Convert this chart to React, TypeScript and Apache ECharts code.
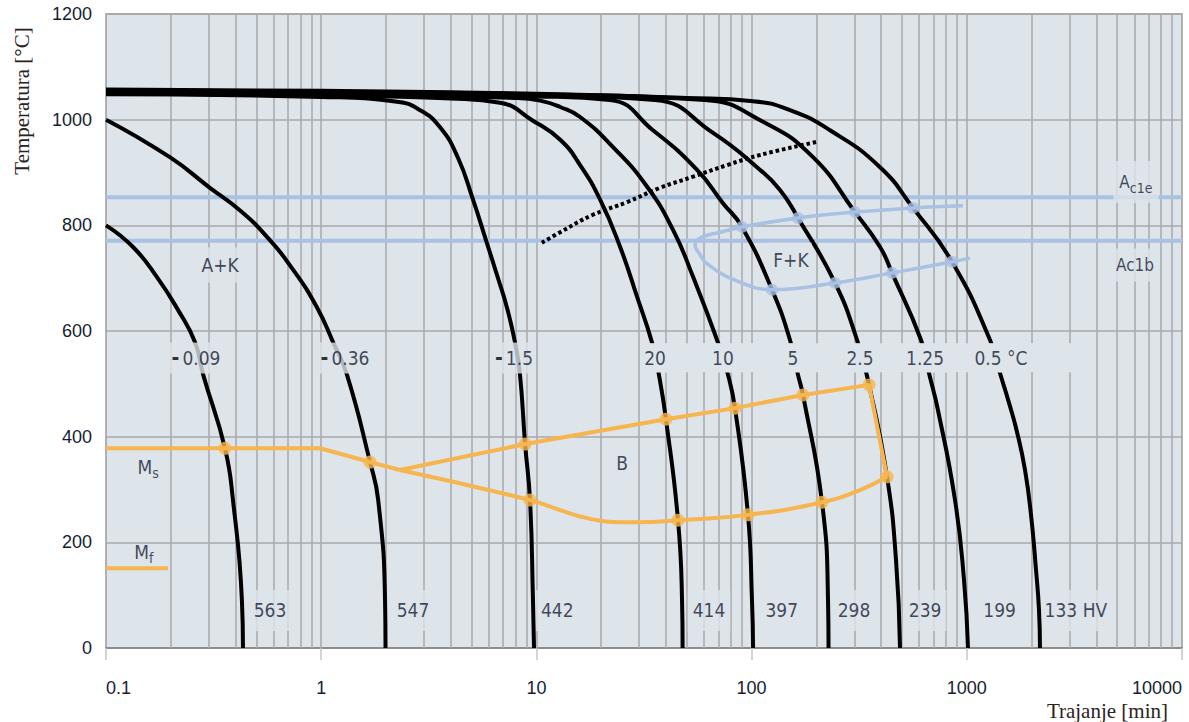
import React, { useEffect, useRef } from "react";
import * as echarts from "echarts";

type P = [number, number];

// ---------- axes ----------
const xMin = 0.1;
const xMax = 10000;
const yMin = 0;
const yMax = 1200;
const yStep = 200;
const decades = [0.1, 1, 10, 100, 1000];
const decadeSteps = [1, 2, 3, 4, 5, 6, 7, 8, 9];

// ---------- cooling curves [time (min), temperature (°C)] ----------
const curve009: P[] = [[0.1, 800], [0.1335, 759], [0.1725, 702], [0.216, 640], [0.259, 579], [0.283, 517], [0.357, 378], [0.389, 280], [0.428, 91], [0.433, 0]];
const curve036: P[] = [[0.1, 1000], [0.198, 929], [0.304, 871], [0.42, 828], [0.56, 778], [0.74, 716], [0.955, 645], [1.135, 579], [1.318, 517], [1.686, 352], [1.84, 280], [1.98, 91], [1.99, 0]];
const curve15: P[] = [[0.1, 1048], [1, 1043], [2.25, 1034], [2.88, 1018], [3.56, 986], [4.32, 928], [5.08, 848], [5.83, 772], [6.56, 706], [7.3, 644], [7.95, 579], [8.39, 517], [8.86, 386], [9.34, 280], [9.64, 91], [9.75, 0]];
const curve20: P[] = [[0.1, 1049.5], [1, 1046], [4, 1040], [6.78, 1032], [9.64, 998], [12.9, 962], [15.96, 914], [19.8, 848], [24.5, 759], [29.4, 664], [34.4, 579], [37.1, 517], [40.0, 433], [45.5, 242], [47.5, 91], [47.8, 0]];
const curve10: P[] = [[0.1, 1051], [1, 1048], [8, 1041], [10.4, 1036], [12.9, 1024], [15.96, 1005], [22.7, 948], [32.7, 873], [43.2, 791], [53.5, 702], [69.1, 583], [77.7, 517], [83.7, 454], [96.2, 252], [100.4, 91], [101.6, 0]];
const curve5: P[] = [[0.1, 1052.5], [1, 1050], [10, 1044], [22, 1037], [34.8, 980], [55.8, 905], [73.6, 842], [90.2, 797], [124.4, 678], [150.8, 583], [164.3, 517], [173.3, 479], [212.4, 276], [226.5, 91], [227.8, 0]];
const curve25: P[] = [[0.1, 1054], [1, 1051.5], [10, 1046], [35.6, 1037], [66.2, 975], [105.9, 910], [135.5, 867], [164.3, 814], [244.1, 691], [308.9, 583], [351.3, 498], [425.8, 324], [468.8, 167], [489.4, 0]];
const curve125: P[] = [[0.1, 1055.5], [1, 1053], [10, 1048], [60.7, 1037], [113, 996], [192.9, 929], [302.3, 825], [395.2, 759], [449.2, 710], [612.6, 583], [667.4, 520], [734.7, 450], [881.6, 280], [970.5, 129], [1013, 0]];
const curve05: P[] = [[0.1, 1057], [1, 1054.5], [10, 1049], [50, 1041], [101.5, 1035], [150.8, 1018], [231.4, 980], [395.2, 910], [562.3, 833], [853.6, 731], [1282, 583], [1427, 520], [1571, 464], [1711, 409], [1864, 337], [1988, 252], [2097, 148], [2165, 72], [2188, 0]];

// ---------- transformation lines ----------
const ac1eTemp = 853;
const ac1bTemp = 771;
const dottedLine: P[] = [[10.6, 767], [12.9, 787], [18.3, 820], [26.4, 844], [37.5, 871], [53.4, 892], [76.9, 914], [109, 933], [201, 958]];
const ferriteLoop: P[] = [[960, 837], [562.3, 833], [302.3, 825], [164.3, 814], [90.2, 797], [71.3, 787], [57.5, 776], [54.6, 763], [57.5, 745], [61.8, 728], [79.4, 700], [124.4, 678], [244.1, 691], [449.2, 710], [853.6, 731], [1035, 738]];
const ferritePoints: P[] = [[90.2, 797], [164.3, 814], [302.3, 825], [562.3, 833], [124.4, 678], [244.1, 691], [449.2, 710], [853.6, 731]];
const msLine: P[] = [[0.1, 378], [0.987, 378], [1.686, 352], [2.32, 337]];
const bainiteUpper: P[] = [[2.32, 337], [8.86, 386], [40.0, 433], [83.7, 454], [173.3, 479], [351.3, 498], [425.8, 324]];
const bainiteLower: P[] = [[425.8, 324], [319, 299], [212.4, 276], [96.2, 252], [45.5, 242], [30.3, 238], [24.4, 238], [19.8, 241], [16.3, 248], [12.9, 261], [9.34, 280], [2.32, 337]];
const bainitePoints: P[] = [[0.357, 378], [1.686, 352], [8.86, 386], [9.34, 280], [40.0, 433], [45.5, 242], [83.7, 454], [96.2, 252], [173.3, 479], [212.4, 276], [351.3, 498], [425.8, 324]];
const mfLine: P[] = [[0.1, 151], [0.194, 151]];

// ---------- labels ----------
const rateLabels = ["0.09", "0.36", "1.5", "20", "10", "5", "2.5", "1.25", "0.5 °C"];
const rateLabelTimes = [0.262, 1.29, 7.87, 35.6, 73.6, 155.6, 319, 640, 1442];
const rateLabelTemp = 549;
const rateBand: P[] = [[30.3, 522], [3289, 577]];
const hardnessLabels = ["563", "547", "442", "414", "397", "298", "239", "199", "133 HV"];
const hardnessTimes = [0.578, 2.67, 12.5, 63.4, 138, 299, 640, 1420, 3213];
const hardnessTemp = 71;
const phaseLabels = ["A+K", "F+K", "B"];
const phasePos: P[] = [[0.339, 725], [152.4, 734], [25.0, 350]];
const msPos: P = [0.157, 343];
const mfPos: P = [0.15, 182];
const ac1ePos: P = [6109, 882];
const ac1bPos: P = [6049, 725];

const BG = "#dde4ea";
const BLUE = "#a9c1e2";
const ORANGE = "#f6b54e";
const TXT = "#161c34";
const NARROW = "'DejaVu Sans Condensed','Liberation Sans Narrow',sans-serif";
const SANS = "'Liberation Sans',Arial,sans-serif";
const SERIF = "'Liberation Serif','Times New Roman',serif";

const gridX: number[] = [];
decades.forEach((d) => decadeSteps.forEach((k) => { if (!(d === 0.1 && k === 1)) gridX.push(k * d); }));

const blackLine = (data: P[]) => ({
  type: "line", data, symbol: "none", smooth: 0.5, z: 4, silent: true,
  lineStyle: { color: "#000", width: 4 }, emphasis: { disabled: true },
});

const labelSeries = (z: number, items: any[], label: any) => ({
  type: "scatter", z, silent: true, symbolSize: 1, itemStyle: { color: "rgba(0,0,0,0)" },
  label: { show: true, position: "inside", ...label }, data: items,
});

export default function App() {
  const ref = useRef<HTMLDivElement>(null);
  useEffect(() => {
    if (!ref.current) return;
    const chart = echarts.init(ref.current, undefined, { renderer: "svg" });
    const option: any = {
      animation: false,
      grid: { left: 106, right: 7, top: 14, bottom: 74, show: true, backgroundColor: BG, borderColor: "#9a9a9a", borderWidth: 1.5, outerBoundsMode: "none" },
      xAxis: {
        type: "log", logBase: 10, min: xMin, max: xMax,
        axisLine: { show: true, lineStyle: { color: "#8c8c8c", width: 2 } },
        axisTick: { show: true, length: 12, lineStyle: { color: "#c6c6c6", width: 1.5 } },
        axisLabel: {
          margin: 31, fontSize: 18, fontFamily: SANS, color: TXT, alignMinLabel: "left", alignMaxLabel: "right",
          formatter: (v: number) => String(Number(v.toPrecision(4))),
        },
        splitLine: { show: false },
      },
      yAxis: {
        type: "value", min: yMin, max: yMax, interval: yStep,
        axisLine: { show: false }, axisTick: { show: false },
        axisLabel: { margin: 14, fontSize: 18, fontFamily: SANS, color: TXT, formatter: (v: number) => String(v) },
        splitLine: { show: true, lineStyle: { color: "#a8a9aa", width: 1.5 } },
      },
      graphic: [
        { type: "text", x: 22, y: 101, rotation: Math.PI / 2, silent: true,
          style: { text: "Temperatura [°C]", fontFamily: SERIF, fontSize: 21, fill: "#2a2222", align: "center", verticalAlign: "middle" } },
        { type: "text", x: 1168, y: 711, silent: true,
          style: { text: "Trajanje [min]", fontFamily: SERIF, fontSize: 21, fill: "#2a2222", align: "right", verticalAlign: "middle" } },
      ],
      series: [
        {
          type: "line", data: [], silent: true,
          markLine: {
            z: 1, silent: true, symbol: ["none", "none"], label: { show: false }, emphasis: { disabled: true },
            lineStyle: { color: "#a8a9aa", width: 1.5, type: "solid" },
            data: gridX.map((v) => ({ xAxis: v })),
          },
        },
        { type: "line", data: [[xMin, ac1eTemp], [xMax, ac1eTemp]], symbol: "none", z: 2, silent: true, lineStyle: { color: BLUE, width: 4 } },
        { type: "line", data: [[xMin, ac1bTemp], [xMax, ac1bTemp]], symbol: "none", z: 2, silent: true, lineStyle: { color: BLUE, width: 4 } },
        labelSeries(3, hardnessTimes.map((t, i) => ({ value: [t, hardnessTemp], name: hardnessLabels[i] })), {
          formatter: "{b}", fontFamily: NARROW, fontSize: 19, color: TXT, backgroundColor: BG, padding: [11, 5],
        }),
        blackLine(curve009), blackLine(curve036), blackLine(curve15), blackLine(curve20), blackLine(curve10),
        blackLine(curve5), blackLine(curve25), blackLine(curve125), blackLine(curve05),
        { type: "line", data: dottedLine, symbol: "none", smooth: 0.4, z: 4, silent: true,
          lineStyle: { color: "#000", width: 4, type: [3.5, 2.8], cap: "butt" } },
        { type: "line", data: ferriteLoop, symbol: "none", smooth: 0.4, z: 5, silent: true, lineStyle: { color: BLUE, width: 3.5 } },
        { type: "scatter", data: ferritePoints, symbol: "circle", symbolSize: 12, z: 6, silent: true, itemStyle: { color: BLUE } },
        { type: "line", data: msLine, symbol: "none", z: 7, silent: true, lineStyle: { color: ORANGE, width: 4 } },
        { type: "line", data: bainiteUpper, symbol: "none", z: 7, silent: true, lineStyle: { color: ORANGE, width: 4 } },
        { type: "line", data: bainiteLower, symbol: "none", smooth: 0.5, z: 7, silent: true, lineStyle: { color: ORANGE, width: 4 } },
        { type: "line", data: mfLine, symbol: "none", z: 7, silent: true, lineStyle: { color: ORANGE, width: 4 } },
        { type: "scatter", data: bainitePoints, symbol: "circle", symbolSize: 13, z: 8, silent: true, itemStyle: { color: ORANGE } },
        {
          type: "line", data: [], silent: true,
          markArea: {
            z: 9, silent: true, label: { show: false }, emphasis: { disabled: true },
            itemStyle: { color: BG, opacity: 1 },
            data: [[{ xAxis: rateBand[0][0], yAxis: rateBand[0][1] }, { xAxis: rateBand[1][0], yAxis: rateBand[1][1] }]],
          },
        },
        labelSeries(10, rateLabelTimes.map((t, i) => ({ value: [t, rateLabelTemp], name: rateLabels[i] })), {
          formatter: (p: any) => (p.dataIndex < 3 ? "{d|-}{n|" + p.name + "}" : "{n|" + p.name + "}"),
          backgroundColor: BG, padding: [5, 3],
          rich: {
            d: { fontFamily: NARROW, fontSize: 21, fontWeight: "bold", color: "#000", padding: [0, 3, 0, 0] },
            n: { fontFamily: NARROW, fontSize: 19, color: TXT },
          },
        }),
        labelSeries(10, phasePos.map((p, i) => ({ value: p, name: phaseLabels[i] })), {
          formatter: "{b}", fontFamily: NARROW, fontSize: 19, color: TXT, backgroundColor: BG, padding: [8, 3],
        }),
        labelSeries(10, [
          { value: msPos, label: { formatter: "{m|M}{s|s}" } },
          { value: mfPos, label: { formatter: "{m|M}{s|f}" } },
          { value: ac1ePos, label: { formatter: "{a|A}{s|c1e}", backgroundColor: BG, padding: [8, 6] } },
          { value: ac1bPos, label: { formatter: "{a|Ac1b}", backgroundColor: BG, padding: [8, 6] } },
        ], {
          rich: {
            m: { fontFamily: NARROW, fontSize: 19, color: TXT },
            a: { fontFamily: NARROW, fontSize: 17, color: TXT },
            s: { fontFamily: NARROW, fontSize: 14, color: TXT, padding: [12, 0, 0, 0] },
          },
        }),
      ],
    };
    chart.setOption(option);
    return () => chart.dispose();
  }, []);
  return <div ref={ref} style={{ position: "fixed", left: 0, top: 0, width: 1189, height: 722, background: "#fff" }} />;
}
